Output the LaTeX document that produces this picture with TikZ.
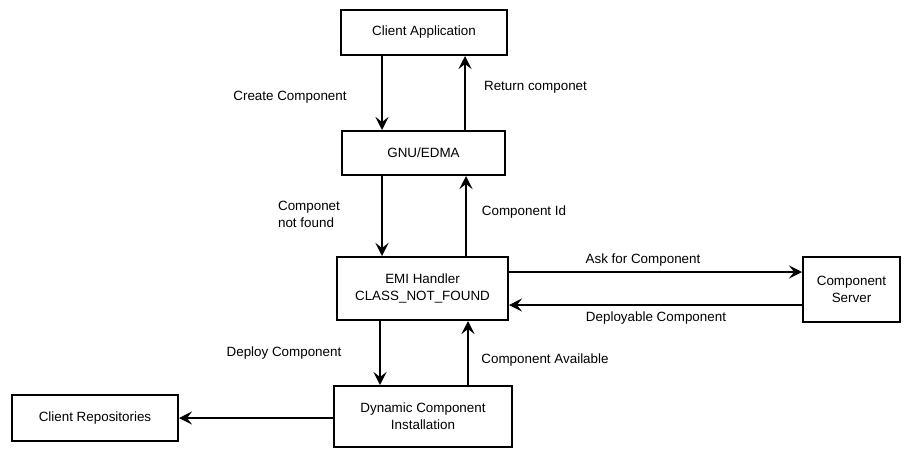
\documentclass[tikz,border=0pt]{standalone}
\usepackage{fontspec}
\setmainfont{Liberation Sans}
\usetikzlibrary{arrows.meta}
\begin{document}
\begin{tikzpicture}[x=1pt,y=-1pt,
  box/.style={draw,line width=2pt,inner sep=0pt,align=center,font=\fontsize{13.4}{17}\selectfont},
  lbl/.style={align=left,font=\fontsize{13.4}{17}\selectfont,inner sep=0pt},
  conn/.style={line width=2pt,-{Stealth[length=13pt,width=13pt,inset=5pt]}}]
\useasboundingbox (0,0) rectangle (904,448);
\node[box,minimum width=166pt,minimum height=45pt] (ca) at (424,32.5) {Client Application};
\node[box,minimum width=163pt,minimum height=44pt] (gnu) at (423.5,153) {GNU/EDMA};
\node[box,minimum width=171pt,minimum height=63pt] (emi) at (422.5,288.5) {EMI Handler\\CLASS\_NOT\_FOUND};
\node[box,minimum width=97pt,minimum height=65pt] (srv) at (851.5,289.5) {Component\\Server};
\node[box,minimum width=178pt,minimum height=61pt] (dci) at (423,416.5) {Dynamic Component\\Installation};
\node[box,minimum width=166pt,minimum height=46pt] (rep) at (95,418) {Client Repositories};

\draw[conn] (ca.south -| 382,0) -- (gnu.north -| 382,0);
\draw[conn] (gnu.north -| 465,0) -- (ca.south -| 465,0);
\draw[conn] (gnu.south -| 382,0) -- (emi.north -| 382,0);
\draw[conn] (emi.north -| 466,0) -- (gnu.south -| 466,0);
\draw[conn] (emi.south -| 380,0) -- (dci.north -| 380,0);
\draw[conn] (dci.north -| 468,0) -- (emi.south -| 468,0);
\draw[conn] (emi.east |- 0,272) -- (srv.west |- 0,272);
\draw[conn] (srv.west |- 0,305) -- (emi.east |- 0,305);
\draw[conn] (dci.west |- 0,418) -- (rep.east |- 0,418);

\node[lbl] (l1) at (290,97) {Create Component};
\node[lbl] (l2) at (535.5,87) {Return componet};
\node[lbl] (l3) at (309,214) {Componet\\not found};
\node[lbl] (l4) at (524,212) {Component Id};
\node[lbl] (l5) at (643,260) {Ask for Component};
\node[lbl] (l6) at (656,318) {Deployable Component};
\node[lbl] (l7) at (284,353) {Deploy Component};
\node[lbl] (l8) at (545,360) {Component Available};
\end{tikzpicture}
\end{document}
